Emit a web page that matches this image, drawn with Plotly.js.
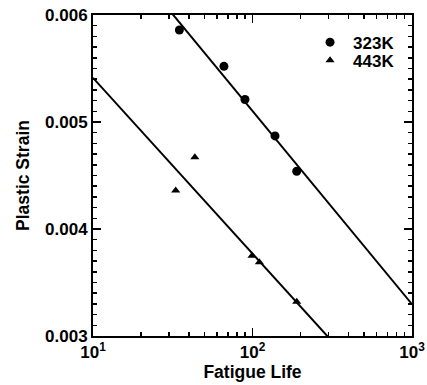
<!DOCTYPE html>
<html>
<head>
<meta charset="utf-8">
<script src="https://cdn.plot.ly/plotly-3.0.1.min.js"></script>
<style>
  html, body { margin: 0; padding: 0; background: #fff; }
  #chart { width: 427px; height: 385px; }
</style>
</head>
<body>
<div id="chart"></div>
<script>
// Fatigue life vs plastic strain amplitude at two temperatures
var life323 = [34.8, 66.2, 89.7, 138.4, 189.3];
var strain323 = [0.00586, 0.00552, 0.00521, 0.00487, 0.00454];

var life443 = [33.0, 43.5, 99.3, 110.4, 189.3];
var strain443 = [0.00436, 0.00467, 0.00375, 0.00369, 0.00332];

// Linear fits: strain = intercept + slope * log10(life)
var fit323 = [0.008715, -0.001806];
var fit443 = [0.007056, -0.001643];

var lifeRange = [10, 1000];
var xTickVals = [10, 100, 1000];
var xTickText = ['10<sup>1</sup>', '10<sup>2</sup>', '10<sup>3</sup>'];

function fitLine(coef) {
  return lifeRange.map(function (n) { return coef[0] + coef[1] * Math.log10(n); });
}

var minorX = [];
[10, 100].forEach(function (d) {
  for (var k = 2; k <= 9; k++) minorX.push(k * d);
});

var font = 'Liberation Sans, Arial, sans-serif';

var traces = [
  {
    x: lifeRange, y: fitLine(fit323), mode: 'lines', showlegend: false,
    line: { color: '#000', width: 2 }, hoverinfo: 'skip'
  },
  {
    x: lifeRange, y: fitLine(fit443), mode: 'lines', showlegend: false,
    line: { color: '#000', width: 2 }, hoverinfo: 'skip'
  },
  {
    x: life323, y: strain323, mode: 'markers', name: '<b>323K</b>', legend: 'legend',
    marker: { symbol: 'circle', size: 9, color: '#000' }
  },
  {
    x: life443, y: strain443, mode: 'markers', name: '<b>443K</b>', legend: 'legend2',
    marker: { symbol: 'triangle-up', size: 8, color: '#000' }
  }
];

var legendFont = { family: font, size: 17, color: '#000' };

var layout = {
  width: 427, height: 385,
  margin: { l: 93, r: 15, t: 15, b: 49 },
  paper_bgcolor: '#fff', plot_bgcolor: '#fff',
  font: { family: font, size: 17, color: '#000' },
  showlegend: true,
  legend: {
    x: 0.671, y: 0.97, xanchor: 'left', yanchor: 'top', itemwidth: 36,
    bgcolor: 'rgba(0,0,0,0)', font: legendFont
  },
  legend2: {
    x: 0.671, y: 0.914, xanchor: 'left', yanchor: 'top', itemwidth: 36,
    bgcolor: 'rgba(0,0,0,0)', font: legendFont
  },
  xaxis: {
    type: 'log', range: [1, 3],
    tickmode: 'array', tickvals: xTickVals, ticktext: xTickText,
    ticks: 'inside', ticklen: 8, tickwidth: 1.5, tickcolor: '#000',
    minor: { tickmode: 'array', tickvals: minorX, ticks: 'inside', ticklen: 4, tickwidth: 1.5, tickcolor: '#000', showgrid: false },
    showline: true, linecolor: '#000', linewidth: 2, mirror: 'ticks',
    showgrid: false, zeroline: false,
    tickfont: { family: font, size: 17, color: '#000', weight: 'bold' },
    title: { text: '<b>Fatigue Life</b>', font: { family: font, size: 17.5, color: '#000' }, standoff: 3 }
  },
  yaxis: {
    range: [0.003, 0.006], dtick: 0.001, tick0: 0.003, tickformat: '.3f',
    ticks: 'inside', ticklen: 8, tickwidth: 1.5, tickcolor: '#000',
    minor: { dtick: 0.0001, ticks: 'inside', ticklen: 4, tickwidth: 1.5, tickcolor: '#000', showgrid: false },
    showline: true, linecolor: '#000', linewidth: 2, mirror: 'ticks',
    showgrid: false, zeroline: false,
    tickfont: { family: font, size: 17, color: '#000', weight: 'bold' },
    title: { text: '<b>Plastic Strain</b>', font: { family: font, size: 17.5, color: '#000' }, standoff: 11 }
  }
};

Plotly.newPlot('chart', traces, layout, { displayModeBar: false, staticPlot: true });
</script>
</body>
</html>
